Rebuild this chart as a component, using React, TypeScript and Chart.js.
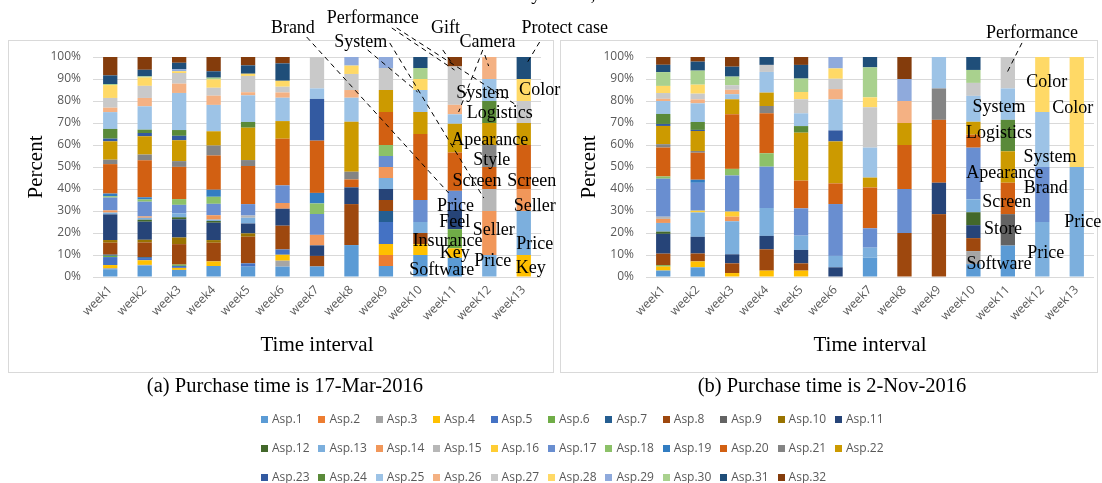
import React, { useEffect, useRef } from 'react';
import { Chart, registerables } from 'chart.js';

Chart.register(...registerables);

type Seg = [number, number]; // [aspect number, share]
type Label = [string, number, number]; // text, week position (0 = week1), percent
type Leader = [number, number, number, number]; // from (week pos, percent) to (week pos, percent)

const weekLabels = ['week1', 'week2', 'week3', 'week4', 'week5', 'week6', 'week7', 'week8', 'week9', 'week10', 'week11', 'week12', 'week13'];

const aspectNames = [
  'Asp.1', 'Asp.2', 'Asp.3', 'Asp.4', 'Asp.5', 'Asp.6', 'Asp.7', 'Asp.8', 'Asp.9', 'Asp.10', 'Asp.11',
  'Asp.12', 'Asp.13', 'Asp.14', 'Asp.15', 'Asp.16', 'Asp.17', 'Asp.18', 'Asp.19', 'Asp.20', 'Asp.21', 'Asp.22',
  'Asp.23', 'Asp.24', 'Asp.25', 'Asp.26', 'Asp.27', 'Asp.28', 'Asp.29', 'Asp.30', 'Asp.31', 'Asp.32',
];

const aspectColors = [
  '#5B9BD5', '#ED7D31', '#A5A5A5', '#FFC000', '#4472C4', '#70AD47',
  '#255E91', '#9E480E', '#636363', '#997300', '#264478', '#43682B',
  '#7CAFDD', '#F1975A', '#B7B7B7', '#FFCD33', '#698ED0', '#8CC168',
  '#327DC2', '#D26012', '#848484', '#CC9A00', '#335AA1', '#5A8A39',
  '#9DC3E6', '#F4B183', '#C9C9C9', '#FFD966', '#8FAADC', '#A9D18E',
  '#1F4E79', '#843C0C',
];

// ---- (a) Purchase time is 17-Mar-2016 ----
const marW1: Seg[] = [[1, 3.5], [3, 0.5], [4, 1.4], [5, 3.6], [6, 0.6], [7, 0.5], [8, 5.4], [10, 1.2], [11, 11.6], [13, 0.8], [14, 1.0], [17, 5.8], [18, 0.6], [19, 1.2], [20, 13.3], [21, 2.0], [22, 8.3], [23, 1.2], [24, 4.4], [25, 7.6], [26, 2.0], [27, 4.4], [28, 5.8], [30, 0.5], [31, 3.9], [32, 8.3]];
const marW2: Seg[] = [[1, 5.2], [3, 0.3], [4, 2.1], [5, 1.0], [7, 0.4], [8, 6.7], [10, 1.2], [11, 8.2], [12, 0.9], [13, 0.9], [14, 0.6], [17, 6.7], [18, 1.0], [19, 1.0], [20, 16.8], [21, 2.6], [22, 8.3], [23, 1.5], [24, 1.5], [25, 10.6], [26, 3.8], [27, 5.5], [28, 3.8], [30, 0.5], [31, 3.0], [32, 5.8]];
const marW3: Seg[] = [[1, 3.2], [4, 0.9], [5, 0.9], [6, 0.6], [8, 9.2], [10, 3.0], [11, 8.2], [12, 0.9], [13, 1.8], [17, 3.8], [18, 2.6], [20, 14.5], [21, 2.6], [22, 9.4], [23, 2.0], [24, 2.6], [25, 16.7], [26, 4.2], [27, 4.8], [28, 0.8], [29, 0.9], [31, 2.9], [32, 2.6]];
const marW4: Seg[] = [[1, 5.0], [4, 2.1], [8, 8.5], [10, 1.2], [11, 7.9], [12, 0.8], [13, 0.6], [14, 2.0], [17, 5.2], [18, 3.2], [19, 3.2], [20, 15.6], [21, 4.5], [22, 6.5], [25, 12.0], [26, 4.2], [27, 3.6], [28, 3.8], [30, 0.8], [31, 2.9], [32, 6.5]];
const marW5: Seg[] = [[1, 4.7], [5, 1.5], [8, 12.1], [10, 1.5], [11, 4.5], [13, 2.6], [15, 1.0], [17, 5.2], [20, 17.3], [21, 2.7], [22, 14.7], [24, 2.6], [25, 12.1], [26, 1.4], [27, 7.4], [28, 1.0], [31, 3.8], [32, 3.8]];
const marW6: Seg[] = [[1, 4.7], [3, 2.7], [4, 2.7], [5, 2.4], [8, 10.8], [11, 7.7], [14, 2.6], [17, 8.0], [20, 21.2], [22, 8.0], [25, 10.6], [26, 2.4], [27, 2.6], [28, 2.7], [31, 7.9], [32, 2.9]];
const marW7: Seg[] = [[1, 4.8], [8, 4.8], [11, 4.8], [14, 4.8], [17, 9.5], [18, 4.8], [19, 4.8], [20, 23.8], [23, 19.0], [25, 4.8], [27, 14.3]];
const marW8: Seg[] = [[1, 14.5], [8, 18.6], [11, 7.6], [20, 3.6], [21, 3.5], [22, 22.7], [25, 10.9], [26, 3.5], [27, 7.3], [28, 3.8], [29, 3.9]];
const marW9: Seg[] = [[1, 5], [2, 5], [4, 5], [5, 10], [7, 5], [8, 5], [11, 5], [13, 5], [14, 5], [17, 5], [18, 5], [20, 15], [22, 10], [27, 10], [29, 5]];
const marW10: Seg[] = [[1, 10], [4, 5], [8, 5], [13, 5], [17, 10], [20, 30], [22, 10], [25, 10], [28, 5], [30, 5], [31, 5]];
const marW11: Seg[] = [[1, 8.7], [4, 4.3], [6, 8.7], [11, 8.7], [17, 8.7], [20, 17.4], [22, 13.0], [25, 4.3], [26, 4.3], [27, 17.4], [32, 4.3]];
const marW12: Seg[] = [[13, 10], [14, 20], [15, 10], [20, 10], [21, 10], [22, 10], [24, 10], [25, 10], [26, 10]];
const marW13: Seg[] = [[4, 10], [13, 20], [14, 10], [20, 20], [22, 10], [27, 10], [28, 10], [31, 10]];

// ---- (b) Purchase time is 2-Nov-2016 ----
const novW1: Seg[] = [[1, 2.9], [4, 1.8], [6, 0.6], [8, 5.2], [11, 8.9], [12, 1.0], [13, 3.9], [14, 1.8], [15, 1.0], [17, 17.1], [18, 1.0], [20, 13.0], [21, 1.5], [22, 8.2], [23, 0.9], [24, 4.5], [25, 5.8], [26, 1.0], [27, 2.6], [28, 3.2], [30, 6.2], [31, 3.3], [32, 3.5]];
const novW2: Seg[] = [[1, 4.4], [4, 2.7], [8, 3.6], [11, 7.6], [13, 11.1], [16, 0.8], [17, 12.7], [19, 1.4], [20, 12.3], [21, 0.8], [22, 9.1], [23, 0.5], [24, 3.6], [25, 8.5], [26, 1.8], [27, 2.6], [28, 4.1], [30, 6.4], [31, 4.1], [32, 2.1]];
const novW3: Seg[] = [[4, 1.8], [8, 4.4], [11, 4.1], [13, 15.0], [14, 2.1], [16, 2.3], [17, 16.4], [18, 3.0], [20, 24.8], [22, 6.8], [25, 2.3], [26, 2.0], [27, 2.1], [30, 3.9], [31, 4.5], [32, 4.4]];
const novW4: Seg[] = [[4, 2.9], [8, 9.7], [11, 6.1], [13, 12.7], [17, 18.8], [18, 6.1], [20, 18.2], [21, 3.3], [22, 6.1], [25, 9.4], [27, 3.2], [31, 3.6]];
const novW5: Seg[] = [[4, 2.9], [8, 3.3], [11, 6.1], [13, 6.5], [17, 12.4], [20, 12.6], [22, 21.8], [24, 3.0], [25, 5.8], [27, 6.4], [28, 3.3], [30, 6.1], [31, 6.2], [32, 3.6]];
const novW6: Seg[] = [[11, 4.4], [13, 5.2], [17, 23.6], [20, 9.4], [22, 19.1], [23, 5.0], [25, 14.1], [26, 4.7], [27, 4.7], [28, 4.7], [29, 5.2]];
const novW7: Seg[] = [[1, 8.8], [13, 4.5], [17, 8.8], [20, 18.5], [22, 4.5], [25, 13.6], [27, 18.3], [28, 4.5], [30, 13.6], [31, 4.7]];
const novW8: Seg[] = [[8, 20], [17, 20], [20, 20], [22, 10], [26, 10], [29, 10], [32, 10]];
const novW9: Seg[] = [[8, 28.6], [11, 14.3], [20, 28.6], [21, 14.3], [25, 14.3]];
const novW10: Seg[] = [[1, 5.9], [3, 5.9], [8, 5.9], [11, 5.9], [12, 5.9], [13, 5.9], [17, 23.5], [20, 5.9], [22, 5.9], [25, 11.8], [27, 5.9], [30, 5.9], [31, 5.9]];
const novW11: Seg[] = [[1, 14.3], [9, 14.3], [20, 14.3], [22, 14.3], [24, 14.3], [25, 14.3], [27, 14.3]];
const novW12: Seg[] = [[13, 25], [17, 25], [25, 25], [28, 25]];
const novW13: Seg[] = [[13, 50], [28, 50]];

const marchWeeks = [marW1, marW2, marW3, marW4, marW5, marW6, marW7, marW8, marW9, marW10, marW11, marW12, marW13];
const novemberWeeks = [novW1, novW2, novW3, novW4, novW5, novW6, novW7, novW8, novW9, novW10, novW11, novW12, novW13];

// ---- annotation texts (week position, percent) ----
const marchLabels: Label[] = [
  ['Brand', 5.30, 113.2], ['Performance', 7.62, 117.7], ['System', 7.27, 106.8], ['Gift', 9.73, 113.2],
  ['Camera', 10.95, 106.8], ['Protect case', 13.19, 113.2], ['System', 10.81, 83.6], ['Color', 12.46, 85.0],
  ['Logistics', 11.30, 74.5], ['Apearance', 11.01, 62.3], ['Style', 11.07, 53.2], ['Screen', 10.64, 43.6],
  ['Screen', 12.23, 43.6], ['Price', 10.02, 32.3], ['Seller', 12.32, 32.3], ['Feel', 10.0, 25.0],
  ['Seller', 11.13, 21.4], ['Insurance', 9.79, 16.4], ['Price', 12.32, 15.0], ['Key', 10.0, 10.9],
  ['Price', 11.10, 7.3], ['Key', 12.20, 4.1], ['Software', 9.62, 3.2],
];
const marchLeaders: Leader[] = [
  [5.70, 109.1, 9.82, 38.2], [8.11, 106.4, 10.84, 35.9], [8.17, 113.2, 9.99, 94.1], [8.31, 113.2, 11.83, 77.7],
  [7.47, 103.2, 8.92, 84.1], [9.65, 103.2, 9.91, 97.3], [10.81, 103.2, 10.11, 75.0], [10.87, 100.9, 10.98, 95.9],
  [12.46, 106.8, 12.06, 96.4],
];
const novemberLabels: Label[] = [
  ['Performance', 10.70, 110.9], ['Color', 11.13, 88.6], ['Color', 11.88, 76.8], ['System', 9.74, 77.3],
  ['Logistics', 9.74, 65.5], ['System', 11.22, 54.5], ['Apearance', 9.91, 47.3], ['Brand', 11.10, 40.5],
  ['Screen', 9.97, 34.1], ['Price', 12.17, 25.0], ['Store', 9.86, 21.8], ['Price', 11.10, 10.9],
  ['Software', 9.74, 5.9],
];
const novemberLeaders: Leader[] = [[10.41, 106.4, 9.97, 92.7]];

const W = 1102;
const H = 483;
const TICK_FONT = { family: '"Open Sans", "Liberation Sans", sans-serif', size: 12 };
const SERIF = '"Liberation Serif", "Times New Roman", serif';

function buildDatasets(weeks: Seg[][]) {
  const totals = weeks.map((w) => w.reduce((s, seg) => s + seg[1], 0));
  return aspectNames.map((name, k) => ({
    label: name,
    data: weeks.map((w, i) => {
      const seg = w.find((s) => s[0] === k + 1);
      return seg ? (seg[1] / totals[i]) * 100 : 0;
    }),
    backgroundColor: aspectColors[k],
    borderWidth: 0,
    barPercentage: 0.415,
    categoryPercentage: 1,
  }));
}

function makeChart(
  canvas: HTMLCanvasElement,
  weeks: Seg[][],
  labels: Label[],
  leaders: Leader[],
  plotLeft: number,
  plotRight: number,
  extra?: (ctx: CanvasRenderingContext2D) => void,
) {
  const plotTop = 57;
  const plotBottom = 277;
  const annotations = {
    id: 'annotations',
    afterDraw(chart: any) {
      const { ctx, chartArea } = chart;
      const xs = chart.scales.x;
      const ys = chart.scales.y;
      const X = (i: number) => xs.getPixelForValue(i);
      const Y = (p: number) => ys.getPixelForValue(p);
      ctx.save();
      ctx.fillStyle = '#000';
      ctx.textAlign = 'center';
      ctx.textBaseline = 'middle';
      ctx.font = `21px ${SERIF}`;
      ctx.fillText('Time interval', (chartArea.left + chartArea.right) / 2, chartArea.bottom + 68);
      ctx.save();
      ctx.translate(chartArea.left - 57, (chartArea.top + chartArea.bottom) / 2);
      ctx.rotate(-Math.PI / 2);
      ctx.fillText('Percent', 0, 0);
      ctx.restore();
      ctx.strokeStyle = '#000';
      ctx.lineWidth = 1;
      ctx.setLineDash([5, 4]);
      leaders.forEach(([i1, p1, i2, p2]) => {
        ctx.beginPath();
        ctx.moveTo(X(i1), Y(p1));
        ctx.lineTo(X(i2), Y(p2));
        ctx.stroke();
      });
      ctx.setLineDash([]);
      ctx.font = `18px ${SERIF}`;
      labels.forEach(([t, i, p]) => ctx.fillText(t, X(i), Y(p)));
      if (extra) extra(ctx);
      ctx.restore();
    },
  };

  return new Chart(canvas, {
    type: 'bar',
    data: { labels: weekLabels, datasets: buildDatasets(weeks) as any },
    options: {
      responsive: false,
      animation: false,
      devicePixelRatio: 1,
      layout: { padding: { left: 0, right: W - plotRight, top: plotTop, bottom: 0 } },
      plugins: { legend: { display: false }, tooltip: { enabled: false }, title: { display: false } },
      scales: {
        x: {
          stacked: true,
          grid: { display: false, drawTicks: false },
          border: { display: false },
          ticks: { color: '#595959', font: TICK_FONT, minRotation: 45, maxRotation: 45, padding: 6, autoSkip: false },
          afterFit: (s: any) => { s.height = H - plotBottom; },
        },
        y: {
          stacked: true,
          min: 0,
          max: 100,
          grid: { color: '#D9D9D9', lineWidth: 1, drawTicks: false },
          border: { display: false },
          ticks: { stepSize: 10, color: '#595959', font: TICK_FONT, padding: 12, callback: (v: any) => `${v}%` },
          afterFit: (s: any) => { s.width = plotLeft; },
        },
      },
    },
    plugins: [annotations],
  } as any);
}

export default function App() {
  const leftRef = useRef<HTMLCanvasElement>(null);
  const rightRef = useRef<HTMLCanvasElement>(null);

  useEffect(() => {
    const left = makeChart(leftRef.current!, marchWeeks, marchLabels, marchLeaders, 93, 541, (ctx) => {
      ctx.font = `19px ${SERIF}`;
      ctx.textBaseline = 'alphabetic';
      ctx.fillText('y', 536, 0);
      ctx.fillText(',', 593, 0);
    });
    const right = makeChart(rightRef.current!, novemberWeeks, novemberLabels, novemberLeaders, 646, 1094);
    return () => {
      left.destroy();
      right.destroy();
    };
  }, []);

  const rowY = [419, 448, 477];
  const canvasStyle: React.CSSProperties = { position: 'absolute', left: 0, top: 0, width: W, height: H };
  const panel: React.CSSProperties = { position: 'absolute', top: 40, height: 333, border: '1px solid #D9D9D9', boxSizing: 'border-box' };
  const caption: React.CSSProperties = {
    position: 'absolute', top: 373, width: 400, height: 24, lineHeight: '24px', textAlign: 'center',
    fontFamily: SERIF, fontSize: 20.5, color: '#000', whiteSpace: 'nowrap',
  };

  return (
    <div style={{ position: 'fixed', left: 0, top: 0, width: W, height: H, background: '#fff', overflow: 'hidden' }}>
      <div style={{ ...panel, left: 8, width: 546 }} />
      <div style={{ ...panel, left: 560, width: 538 }} />
      <canvas ref={leftRef} width={W} height={H} style={canvasStyle} />
      <canvas ref={rightRef} width={W} height={H} style={canvasStyle} />
      <div style={{ ...caption, left: 285 - 200 }}>(a) Purchase time is 17-Mar-2016</div>
      <div style={{ ...caption, left: 832 - 200 }}>(b) Purchase time is 2-Nov-2016</div>
      {aspectNames.map((name, k) => {
        const row = Math.floor(k / 11);
        const col = k % 11;
        return (
          <div
            key={name}
            style={{
              position: 'absolute', left: 261 + col * 57.4, top: rowY[row] - 9, height: 18, lineHeight: '18px',
              display: 'flex', alignItems: 'center', whiteSpace: 'nowrap',
              fontFamily: '"Open Sans", "Liberation Sans", sans-serif', fontSize: 12, color: '#595959',
            }}
          >
            <span style={{ display: 'inline-block', width: 7, height: 7, background: aspectColors[k], marginRight: 4 }} />
            {name}
          </div>
        );
      })}
    </div>
  );
}
